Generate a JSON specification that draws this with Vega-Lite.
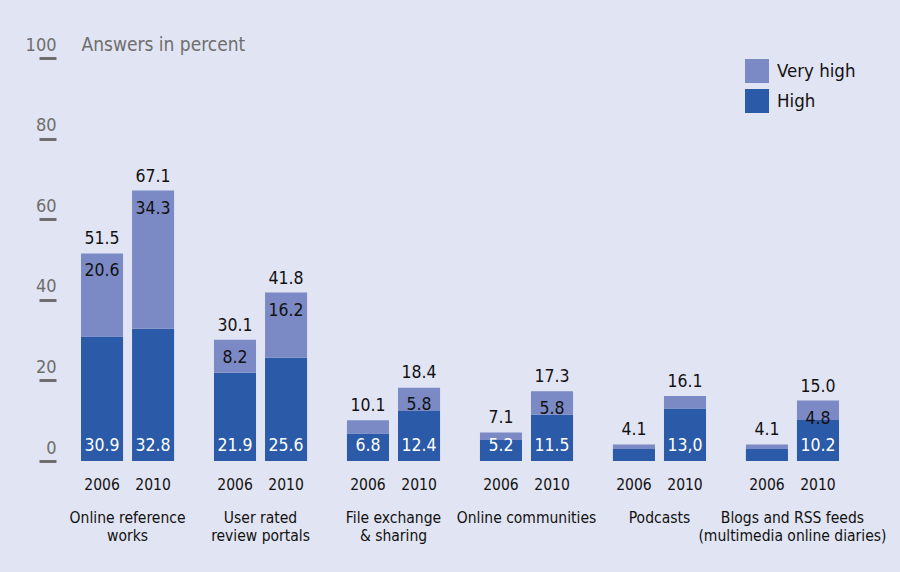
{
  "$schema": "https://vega.github.io/schema/vega-lite/v6.json",
  "width": 808,
  "height": 403,
  "autosize": {"type": "none"},
  "padding": {"left": 56, "top": 58, "right": 36, "bottom": 111},
  "background": "#e1e4f2",
  "config": {
    "view": {"stroke": null},
    "font": "DejaVu Sans Condensed, Roboto, sans-serif",
    "text": {"font": "DejaVu Sans Condensed, Roboto, sans-serif"}
  },
  "datasets": {
    "segments": [
      {"cat": "Online reference works", "year": "2006", "level": "High", "value": 30.9, "label": "30.9"},
      {"cat": "Online reference works", "year": "2006", "level": "Very high", "value": 20.6, "label": "20.6"},
      {"cat": "Online reference works", "year": "2010", "level": "High", "value": 32.8, "label": "32.8"},
      {"cat": "Online reference works", "year": "2010", "level": "Very high", "value": 34.3, "label": "34.3"},
      {"cat": "User rated review portals", "year": "2006", "level": "High", "value": 21.9, "label": "21.9"},
      {"cat": "User rated review portals", "year": "2006", "level": "Very high", "value": 8.2, "label": "8.2"},
      {"cat": "User rated review portals", "year": "2010", "level": "High", "value": 25.6, "label": "25.6"},
      {"cat": "User rated review portals", "year": "2010", "level": "Very high", "value": 16.2, "label": "16.2"},
      {"cat": "File exchange & sharing", "year": "2006", "level": "High", "value": 6.8, "label": "6.8"},
      {"cat": "File exchange & sharing", "year": "2006", "level": "Very high", "value": 3.3, "label": null},
      {"cat": "File exchange & sharing", "year": "2010", "level": "High", "value": 12.4, "label": "12.4"},
      {"cat": "File exchange & sharing", "year": "2010", "level": "Very high", "value": 5.8, "label": "5.8"},
      {"cat": "Online communities", "year": "2006", "level": "High", "value": 5.2, "label": "5.2"},
      {"cat": "Online communities", "year": "2006", "level": "Very high", "value": 1.9, "label": null},
      {"cat": "Online communities", "year": "2010", "level": "High", "value": 11.5, "label": "11.5"},
      {"cat": "Online communities", "year": "2010", "level": "Very high", "value": 5.8, "label": "5.8"},
      {"cat": "Podcasts", "year": "2006", "level": "High", "value": 3.0, "label": null},
      {"cat": "Podcasts", "year": "2006", "level": "Very high", "value": 1.1, "label": null},
      {"cat": "Podcasts", "year": "2010", "level": "High", "value": 13.0, "label": "13,0"},
      {"cat": "Podcasts", "year": "2010", "level": "Very high", "value": 3.1, "label": null},
      {"cat": "Blogs and RSS feeds", "year": "2006", "level": "High", "value": 3.0, "label": null},
      {"cat": "Blogs and RSS feeds", "year": "2006", "level": "Very high", "value": 1.1, "label": null},
      {"cat": "Blogs and RSS feeds", "year": "2010", "level": "High", "value": 10.2, "label": "10.2"},
      {"cat": "Blogs and RSS feeds", "year": "2010", "level": "Very high", "value": 4.8, "label": "4.8"}
    ],
    "totals": [
      {"cat": "Online reference works", "year": "2006", "total": 51.5, "vh": "20.6"},
      {"cat": "Online reference works", "year": "2010", "total": 67.1, "vh": "34.3"},
      {"cat": "User rated review portals", "year": "2006", "total": 30.1, "vh": "8.2"},
      {"cat": "User rated review portals", "year": "2010", "total": 41.8, "vh": "16.2"},
      {"cat": "File exchange & sharing", "year": "2006", "total": 10.1, "vh": null},
      {"cat": "File exchange & sharing", "year": "2010", "total": 18.4, "vh": "5.8"},
      {"cat": "Online communities", "year": "2006", "total": 7.1, "vh": null},
      {"cat": "Online communities", "year": "2010", "total": 17.3, "vh": "5.8"},
      {"cat": "Podcasts", "year": "2006", "total": 4.1, "vh": null},
      {"cat": "Podcasts", "year": "2010", "total": 16.1, "vh": null},
      {"cat": "Blogs and RSS feeds", "year": "2006", "total": 4.1, "vh": null},
      {"cat": "Blogs and RSS feeds", "year": "2010", "total": 15.0, "vh": "4.8"}
    ]
  },
  "encoding": {
    "x": {
      "field": "cat",
      "type": "nominal",
      "sort": null,
      "scale": {"paddingInner": 0.3, "paddingOuter": 0.188},
      "axis": {
        "title": null,
        "domain": false,
        "ticks": false,
        "labelAngle": 0,
        "labelBaseline": "top",
        "labelPadding": 49,
        "labelFontSize": 15.5,
        "labelColor": "#111111",
        "labelLineHeight": 18,
        "labelLimit": 0,
        "labelFont": "DejaVu Sans Condensed, Roboto, sans-serif",
        "labelExpr": "datum.label == 'Online reference works' ? ['Online reference', 'works'] : datum.label == 'User rated review portals' ? ['User rated', 'review portals'] : datum.label == 'File exchange & sharing' ? ['File exchange', '& sharing'] : datum.label == 'Blogs and RSS feeds' ? ['Blogs and RSS feeds', '(multimedia online diaries)'] : datum.label"
      }
    },
    "xOffset": {
      "field": "year",
      "type": "nominal",
      "scale": {"paddingInner": 0.1765, "paddingOuter": 0}
    }
  },
  "layer": [
    {
      "data": {"name": "segments"},
      "mark": {"type": "bar"},
      "encoding": {
        "y": {
          "field": "value",
          "type": "quantitative",
          "stack": "zero",
          "scale": {"domain": [0, 100], "nice": false},
          "axis": {
            "values": [0, 20, 40, 60, 80, 100],
            "domain": false,
            "grid": false,
            "tickSize": 17,
            "tickWidth": 3,
            "tickColor": "#6e6e6e",
            "labelAlign": "right",
            "labelBaseline": "alphabetic",
            "labelPadding": -17,
            "labelOffset": -8,
            "labelFontSize": 18,
            "labelColor": "#6e6e6e",
            "labelFont": "DejaVu Sans Condensed, Roboto, sans-serif",
            "title": "Answers in percent",
            "titleAngle": 0,
            "titleAlign": "left",
            "titleBaseline": "alphabetic",
            "titleX": 25,
            "titleY": -8,
            "titleFontSize": 19,
            "titleFontWeight": "normal",
            "titleColor": "#6e6e6e",
            "titleFont": "DejaVu Sans Condensed, Roboto, sans-serif"
          }
        },
        "color": {
          "field": "level",
          "type": "nominal",
          "scale": {"domain": ["Very high", "High"], "range": ["#7b8ac5", "#2b5aa8"]},
          "legend": {
            "title": null,
            "orient": "none",
            "legendX": 689,
            "legendY": 1,
            "symbolType": "square",
            "symbolSize": 576,
            "symbolStrokeWidth": 0,
            "symbolOpacity": 1,
            "labelFontSize": 18.5,
            "labelColor": "#111111",
            "labelOffset": 8,
            "rowPadding": 6,
            "padding": 0,
            "labelFont": "DejaVu Sans Condensed, Roboto, sans-serif"
          }
        },
        "order": {"field": "level", "sort": "ascending"}
      }
    },
    {
      "data": {"name": "totals"},
      "mark": {"type": "text", "baseline": "bottom", "dy": -5, "fontSize": 17.5, "color": "#111111"},
      "encoding": {
        "y": {"field": "total", "type": "quantitative"},
        "text": {"field": "total", "type": "quantitative", "format": ".1f"}
      }
    },
    {
      "data": {"name": "totals"},
      "transform": [{"filter": "datum.vh !== null"}],
      "mark": {"type": "text", "baseline": "middle", "dy": 18, "fontSize": 17.5, "color": "#111111"},
      "encoding": {
        "y": {"field": "total", "type": "quantitative"},
        "text": {"field": "vh", "type": "nominal"}
      }
    },
    {
      "data": {"name": "segments"},
      "transform": [
        {"filter": "datum.level === 'High' && datum.label !== null"}
      ],
      "mark": {"type": "text", "baseline": "middle", "dy": -15, "fontSize": 17.5, "color": "#ffffff"},
      "encoding": {
        "y": {"datum": 0, "type": "quantitative"},
        "text": {"field": "label", "type": "nominal"}
      }
    },
    {
      "data": {"name": "totals"},
      "mark": {"type": "text", "baseline": "middle", "dy": 24, "fontSize": 15.5, "color": "#111111"},
      "encoding": {
        "y": {"datum": 0, "type": "quantitative"},
        "text": {"field": "year", "type": "nominal"}
      }
    }
  ]
}
